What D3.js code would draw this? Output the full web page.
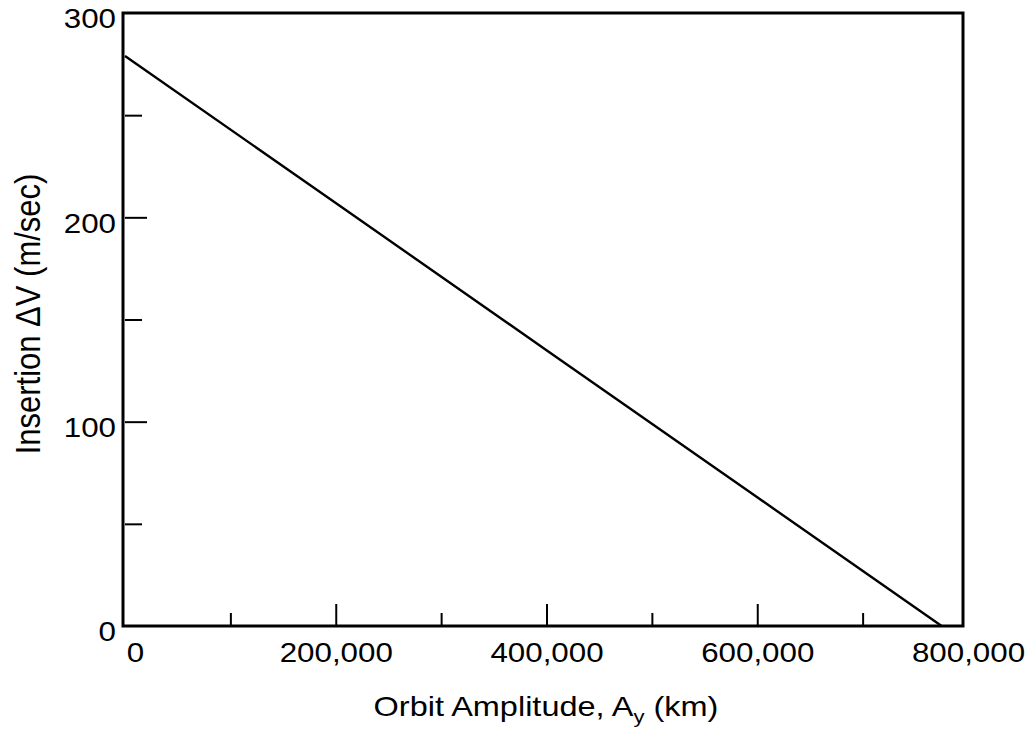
<!DOCTYPE html>
<html>
<head>
<meta charset="utf-8">
<script src="https://cdn.jsdelivr.net/npm/d3@7"></script>
<style>
  body { margin: 0; background: #fff; }
  text { font-family: "Liberation Sans", Arial, Helvetica, sans-serif; fill: #000; }
</style>
</head>
<body>
<script>
// data
var amplitude = [0, 200000, 400000, 600000, 775000];   // km
var insertionDV = [279, 207, 135, 63, 0];               // m/sec

var xMajor = [0, 200000, 400000, 600000, 800000];
var xMinor = [100000, 300000, 500000, 700000];
var yMajor = [0, 100, 200, 300];
var yMinor = [50, 150, 250];

var w = 1029, h = 732;
var stretch = 1.16; // glyphs in the scan are wider than tall

var svg = d3.select("body").append("svg")
  .attr("width", w)
  .attr("height", h);

var x = d3.scaleLinear().domain([0, 800000]).range([125, 968]);
var y = d3.scaleLinear().domain([0, 300]).range([626, 13]);

// ticks point inward
var gxMinor = svg.append("g")
  .attr("transform", "translate(0," + y(0) + ")")
  .call(d3.axisBottom(x).tickValues(xMinor).tickSize(-13).tickFormat(""));

var gx = svg.append("g")
  .attr("transform", "translate(0," + y(0) + ")")
  .call(d3.axisBottom(x).tickValues(xMajor).tickSize(-22).tickPadding(17)
    .tickFormat(d3.format(",")));

var gyMinor = svg.append("g")
  .attr("transform", "translate(" + x(0) + ",0)")
  .call(d3.axisLeft(y).tickValues(yMinor).tickSize(-17).tickFormat(""));

var gy = svg.append("g")
  .attr("transform", "translate(" + x(0) + ",0)")
  .call(d3.axisLeft(y).tickValues(yMajor).tickSize(-22).tickFormat(d3.format("d")));

svg.selectAll(".domain").remove();
svg.selectAll(".tick line").attr("stroke", "#000").attr("stroke-width", 2);

// end ticks sit on the frame, so drop them
gx.selectAll(".tick line").filter(function(d) { return d === 0 || d === 800000; }).remove();
gy.selectAll(".tick line").filter(function(d) { return d === 0 || d === 300; }).remove();

gx.selectAll("text")
  .style("font-size", "27px")
  .attr("transform", function(d) {
    var shift = d === 0 ? 10 : 0;
    return "translate(" + shift + ",0) scale(" + stretch + ",1)";
  });

gy.selectAll("text")
  .style("font-size", "27px")
  .attr("x", 0)
  .attr("dy", "0.55em")
  .attr("transform", "translate(-9,0) scale(" + stretch + ",1)");

// frame
svg.append("rect")
  .attr("x", x(0) - 2)
  .attr("y", y(300))
  .attr("width", 963 - x(0) + 2)
  .attr("height", y(0) - y(300))
  .attr("fill", "none")
  .attr("stroke", "#000")
  .attr("stroke-width", 3);

// line
var pts = amplitude.map(function(a, i) { return [a, insertionDV[i]]; });
svg.append("path")
  .datum(pts)
  .attr("fill", "none")
  .attr("stroke", "#000")
  .attr("stroke-width", 2.4)
  .attr("d", d3.line()
    .x(function(d) { return x(d[0]); })
    .y(function(d) { return y(d[1]); }));

// axis titles
var xt = svg.append("text")
  .attr("transform", "translate(546,716) scale(" + stretch + ",1)")
  .attr("text-anchor", "middle")
  .style("font-size", "28px");
xt.append("tspan").text("Orbit Amplitude, A");
xt.append("tspan").attr("dy", 7).style("font-size", "19px").text("y");
xt.append("tspan").attr("dy", -7).text(" (km)");

svg.append("text")
  .attr("transform", "translate(40,314) scale(" + stretch + ",1) rotate(-90)")
  .attr("text-anchor", "middle")
  .style("font-size", "31px")
  .text("Insertion \u0394V (m/sec)");
</script>
</body>
</html>
